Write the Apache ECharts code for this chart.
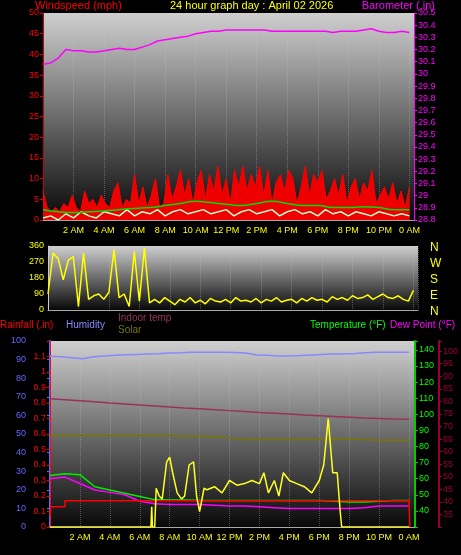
<!DOCTYPE html>
<html><head><meta charset="utf-8">
<script src="https://cdn.jsdelivr.net/npm/echarts@6/dist/echarts.min.js"></script>
<style>html,body{margin:0;background:#000}#c{width:461px;height:555px}</style>
</head><body><div id="c"></div>
<script>
// ---- data ----
const hourTicks = ['2 AM','4 AM','6 AM','8 AM','10 AM','12 PM','2 PM','4 PM','6 PM','8 PM','10 PM','0 AM'];
const barometer = [30.08,30.09,30.13,30.20,30.19,30.19,30.18,30.18,30.19,30.20,30.21,30.20,30.20,30.22,30.24,30.27,30.28,30.29,30.30,30.31,30.33,30.34,30.35,30.35,30.36,30.36,30.36,30.36,30.36,30.36,30.35,30.35,30.35,30.35,30.35,30.35,30.35,30.35,30.34,30.35,30.35,30.35,30.36,30.37,30.35,30.34,30.34,30.35,30.34];
const windGust = [7,3,2,3,2,4,3,6,3,2,7,4,5,3,6,4,3,7,9,3,5,4,11,4,8,3,6,10,3,
  4,11,5,8,12,6,10,4,9,12,5,11,7,13,6,10,4,12,8,13,7,
  11,8,13,6,12,4,9,11,7,12,10,4,8,13,6,11,9,12,5,7,10,
  6,11,4,8,10,5,9,7,12,4,6,8,5,9,4,7,3,8];
const windSpeed = [0.5,1,0,1.5,0.5,2,1,0.5,2,1.5,1,2.5,1,2,1.5,2.5,1,2,2.5,1.5,2,2.5,1.5,2,2.5,1,2,2.5,1.5,2,2.5,1,2,2.5,1.5,2,1,2.5,1.5,2,1,2,1.5,1,2,1.5,1,1.5,1];
const windAvg = [2.5,2,1.8,2,2.2,2.5,2.8,3,3.5,4,4.5,4.2,3.8,3.5,4,4.5,4,3.5,3.5,3,3,3.2,3,2.5,2.5];
const windDir = [90,320,290,170,280,300,20,320,60,80,90,60,100,340,70,90,20,330,50,350,40,
  60,40,70,50,30,60,45,70,40,55,35,65,50,45,60,40,70,50,55,45,65,40,60,50,70,45,55,60,40,65,50,70,55,60,45,75,60,70,55,80,65,70,85,60,75,90,70,65,80,60,50,110];
const humidity = [91.8,91.5,91,90.5,91.5,92,92.3,92.6,92.8,93,93.2,93.5,93.7,94,94,94,94,93.8,93.5,92.5,92.3,92,92,92.2,92.5,92.8,93,93,93.3,93.7,94,94,94,94];
const indoorTemp = [81,80.6,80.2,79.8,79.3,78.9,78.5,78.1,77.7,77.3,77,76.6,76.3,76,75.6,75.3,75,74.6,74.3,74,73.7,73.4,73.2,73,72.9];
const solarAvg = [0.59,0.59,0.59,0.59,0.59,0.59,0.59,0.59,0.59,0.585,0.585,0.58,0.575,0.565,0.565,0.565,0.565,0.565,0.565,0.565,0.57,0.565,0.56,0.56,0.56];
const temperature = [62,63,62.5,55,53,51,49,47,46.8,46.7,46.5,46.5,46.5,46.5,46.5,46.5,46.5,46.5,46.5,46,45.5,45.5,46,46.5,46.5];
const dewPoint = [60,61,57,53,51.5,50,46,44.5,44,44,44,43.5,43,43,42.5,42,41.5,41.5,41.5,41.5,41.5,42,43,43,43];
const rainHours = [0,0.05,0.2,1,1,24,24.05];
const rainVals = [0.07,0.13,0.13,0.13,0.17,0.17,0];
const solarHours = [0,6.75,6.8,6.85,7.0,7.1,7.3,7.5,7.8,8,8.2,8.5,8.8,9,9.3,9.6,9.8,10,10.3,10.5,11,11.5,12,12.5,13,13.5,14,14.3,14.6,15,15.3,15.6,16,16.5,17,17.5,18,18.3,18.6,18.9,19.2,19.4,19.5,24];
const solarVals = [0,0,0.13,0,0,0.25,0.2,0.18,0.42,0.45,0.35,0.22,0.18,0.2,0.4,0.42,0.2,0.1,0.25,0.24,0.26,0.22,0.3,0.27,0.28,0.3,0.28,0.35,0.22,0.3,0.2,0.35,0.3,0.28,0.26,0.22,0.3,0.4,0.7,0.35,0.35,0.1,0,0];

function spread(arr){return arr.map((v,i)=>[i*24/(arr.length-1),v]);}
function zipXY(xs,ys){return xs.map((x,i)=>[x,ys[i]]);}
function hLabel(v){const i=Math.round(v/2)-1;return (Math.abs(v-Math.round(v))<1e-6&&i>=0&&i<hourTicks.length)?hourTicks[i]:'';}
const F='Liberation Sans, Arial, sans-serif';
const bg=()=>({type:'linear',x:0,y:0,x2:0,y2:1,colorStops:[{offset:0,color:'#cfcfcf'},{offset:1,color:'#080808'}]});
const split={show:true,lineStyle:{color:'rgba(200,200,200,0.35)',type:'dotted'}};
function xAx(gi,max,show){return {type:'value',gridIndex:gi,min:0,max:max,interval:2,
  axisLine:{show:true,lineStyle:{color:'#aaa'}},axisTick:{show:false},splitLine:split,
  axisLabel:{show:show,color:'#ffff00',fontSize:9,fontFamily:F,formatter:hLabel,margin:6}};}
function yAx(gi,o){return Object.assign({type:'value',gridIndex:gi,splitLine:{show:false},
  axisTick:{show:true,length:3,inside:false}},o);}
function lbl(color,dec,lo,hi){return {color:color,fontSize:9,fontFamily:F,margin:4,
  formatter:v=>{if(lo!==undefined&&(v<lo-1e-6||v>hi+1e-6))return '';return dec?(+v.toFixed(dec)).toString():v;}};}
function line(name,x,y,data,color,w,extra){return Object.assign({name,type:'line',xAxisIndex:x,yAxisIndex:y,data,symbol:'none',
  lineStyle:{color,width:w||1.5},itemStyle:{color},animation:false},extra||{});}

const chart=echarts.init(document.getElementById('c'));
chart.setOption({
  backgroundColor:'#000',animation:false,
  grid:[
    {left:43,right:47,top:13,height:207,show:true,backgroundColor:bg(),borderWidth:0},
    {left:48,right:43,top:246,height:64,show:true,backgroundColor:bg(),borderWidth:0},
    {left:50,right:45,top:341,height:186,show:true,backgroundColor:bg(),borderWidth:0}],
  xAxis:[xAx(0,24.3,true),xAx(1,24.3,false),xAx(2,24.4,true)],
  yAxis:[
    yAx(0,{position:'left',min:0,max:50,interval:5,axisLine:{show:true,lineStyle:{color:'#cc0000'}},axisLabel:lbl('#ff0000')}),
    yAx(0,{position:'right',min:28.8,max:30.5,interval:0.1,axisLine:{show:true,lineStyle:{color:'#ff00ff'}},axisLabel:lbl('#ff00ff',1)}),
    yAx(1,{position:'left',min:0,max:360,interval:90,axisLine:{show:true,lineStyle:{color:'#ccc'}},axisTick:{show:false},axisLabel:lbl('#ffff00')}),
    yAx(2,{position:'left',min:0,max:100,interval:10,offset:20,axisLine:{show:true,lineStyle:{color:'#6666ff',width:2}},axisLabel:lbl('#6666ff')}),
    yAx(2,{position:'left',offset:0,min:0,max:1.2,interval:0.1,axisLine:{show:true,lineStyle:{color:'#ff0000',type:'dotted'}},axisLabel:lbl('#ff0000',1,0,1.15)}),
    yAx(2,{position:'right',offset:0,min:30,max:145.5,interval:10,axisLine:{show:true,lineStyle:{color:'#00cc00',width:2}},axisLabel:lbl('#00ff00',0,40,140)}),
    yAx(2,{position:'right',offset:24,min:30,max:104,interval:5,axisLine:{show:true,lineStyle:{color:'#990033',width:2}},axisLabel:lbl('#990033',0,35,100)})],
  series:[
    line('Gust',0,0,spread(windGust),'#ff0000',1,{areaStyle:{color:'#ee0000',opacity:1}}),
    line('Speed',0,0,spread(windSpeed),'#ccffcc',1.5),
    line('Avg',0,0,spread(windAvg),'#00dd00',1.5,{smooth:true}),
    line('Barometer',0,1,spread(barometer),'#ff00ff',1.5),
    line('Direction',1,2,spread(windDir),'#ffff00',1.5),
    line('Humidity',2,3,spread(humidity),'#8888ff',1.5),
    line('Indoor temp',2,6,spread(indoorTemp),'#993355',1.5),
    line('Solar',2,4,spread(solarAvg),'#777700',1.5),
    line('Temperature',2,5,spread(temperature),'#00ee00',1.5),
    line('Dew Point',2,5,spread(dewPoint),'#ff00ff',1.5),
    line('Rainfall',2,4,zipXY(rainHours,rainVals),'#ff0000',1.5),
    line('Solar rad',2,4,zipXY(solarHours,solarVals),'#ffff22',1.5)],
  graphic:[
    {type:'text',left:35,top:0,style:{text:'Windspeed (mph)',fill:'#ff0000',font:'11px '+F}},
    {type:'text',left:170,top:0,style:{text:'24 hour graph day : April 02 2026',fill:'#ffff00',font:'11px '+F}},
    {type:'text',right:26,top:0,style:{text:'Barometer (.in)',fill:'#ff00ff',font:'11px '+F}},
    {type:'text',left:430,top:240,style:{text:'N\nW\nS\nE\nN',fill:'#ffff00',font:'12px '+F,lineHeight:16}},
    {type:'text',left:0,top:320,style:{text:'Rainfall (.in)',fill:'#ff0000',font:'10px '+F}},
    {type:'text',left:66,top:320,style:{text:'Humidity',fill:'#8888ff',font:'10px '+F}},
    {type:'text',left:118,top:313,style:{text:'Indoor temp',fill:'#993355',font:'10px '+F}},
    {type:'text',left:118,top:325,style:{text:'Solar',fill:'#777700',font:'10px '+F}},
    {type:'text',left:310,top:320,style:{text:'Temperature (°F)',fill:'#00ff00',font:'10px '+F}},
    {type:'text',left:390,top:320,style:{text:'Dew Point (°F)',fill:'#ff00ff',font:'10px '+F}}]
});
</script></body></html>
